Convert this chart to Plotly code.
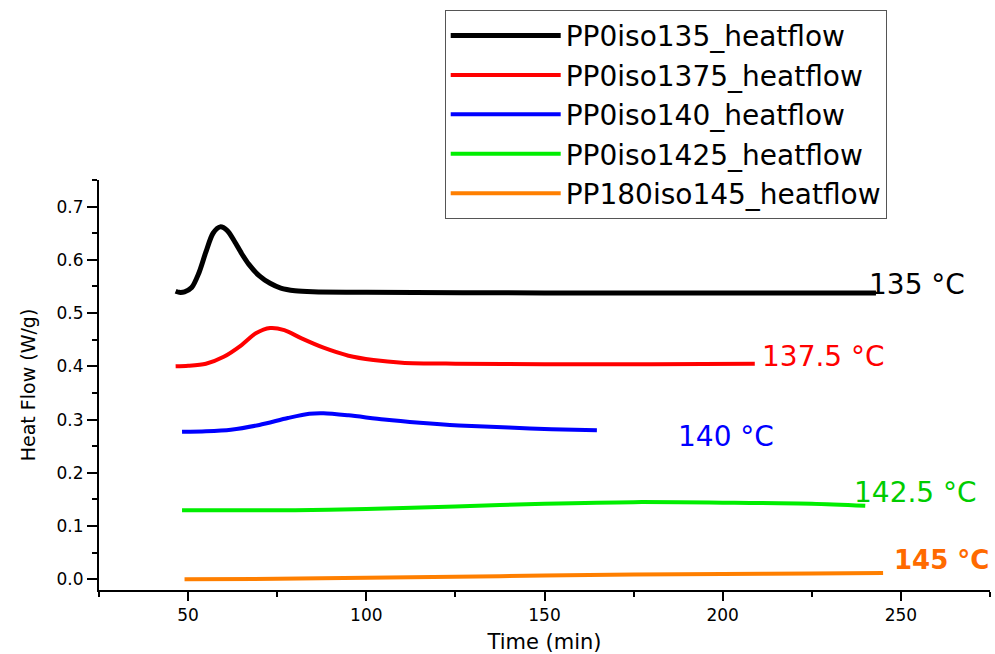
import plotly.graph_objects as go

# ---- data ----
t_135 = [46.5, 47.5, 49, 51, 53, 55, 57, 59, 61, 63, 65, 67, 70, 73, 76, 80, 85, 100, 150, 200, 243]
hf_135 = [0.541, 0.539, 0.540, 0.548, 0.575, 0.615, 0.650, 0.662, 0.655, 0.635, 0.612, 0.592,
          0.570, 0.556, 0.547, 0.542, 0.540, 0.539, 0.538, 0.538, 0.538]

t_1375 = [46.5, 50, 55, 60, 65, 69, 73, 77, 82, 88, 95, 102, 110, 125, 150, 180, 209]
hf_1375 = [0.400, 0.401, 0.405, 0.418, 0.440, 0.462, 0.472, 0.468, 0.452, 0.435, 0.420,
           0.412, 0.407, 0.405, 0.404, 0.404, 0.405]

t_140 = [48.3, 55, 62, 70, 78, 84, 88, 95, 105, 115, 126, 140, 152, 164.7]
hf_140 = [0.277, 0.278, 0.281, 0.290, 0.303, 0.311, 0.312, 0.308, 0.300, 0.294, 0.289,
          0.285, 0.282, 0.280]

t_1425 = [48.3, 80, 100, 125, 150, 175, 200, 225, 240]
hf_1425 = [0.130, 0.130, 0.132, 0.137, 0.142, 0.145, 0.144, 0.142, 0.138]

t_145 = [49, 75, 100, 125, 150, 175, 200, 225, 245]
hf_145 = [0.000, 0.001, 0.003, 0.005, 0.007, 0.009, 0.010, 0.011, 0.012]

series_names = ["PP0iso135_heatflow", "PP0iso1375_heatflow", "PP0iso140_heatflow",
                "PP0iso1425_heatflow", "PP180iso145_heatflow"]
series_x = [t_135, t_1375, t_140, t_1425, t_145]
series_y = [hf_135, hf_1375, hf_140, hf_1425, hf_145]
colors = ["#000000", "#ff0000", "#0000ff", "#00ee00", "#ff7f00"]
widths = [5, 4, 4, 4, 4]

label_texts = ["135 °C", "137.5 °C", "140 °C", "142.5 °C", "<b>145 °C</b>"]
label_x = [240.4, 210.4, 186.8, 236.4, 247.4]
label_y = [0.553, 0.418, 0.269, 0.164, 0.036]
label_colors = ["#000000", "#ff0000", "#0000ff", "#00cc00", "#ff6a00"]
label_sizes = [28, 28, 28, 28, 26]

FONT = "DejaVu Sans"

fig = go.Figure()
for name, xs, ys, c, w in zip(series_names, series_x, series_y, colors, widths):
    fig.add_trace(go.Scatter(x=xs, y=ys, mode="lines", name=name,
                             line=dict(color=c, width=w, shape="spline", smoothing=0.8)))

for txt, x, y, c, s in zip(label_texts, label_x, label_y, label_colors, label_sizes):
    fig.add_annotation(x=x, y=y, text=txt, showarrow=False, xanchor="left", yanchor="middle",
                       font=dict(family=FONT, size=s, color=c))

fig.update_layout(
    width=995, height=654,
    margin=dict(l=99, r=5, t=180, b=64),
    paper_bgcolor="white", plot_bgcolor="white",
    font=dict(family=FONT, color="black"),
    showlegend=True,
    legend=dict(x=0.388, y=1.415, xanchor="left", yanchor="top",
                bordercolor="#555555", borderwidth=1, bgcolor="white",
                font=dict(family=FONT, size=28, color="black"), itemwidth=110,
                tracegroupgap=0),
    xaxis=dict(range=[25, 275], showline=True, linecolor="black", linewidth=2,
               showgrid=False, zeroline=False, ticks="outside", ticklen=9, tickwidth=2,
               tickcolor="black", tickvals=[50, 100, 150, 200, 250],
               minor=dict(ticks="outside", ticklen=5, tickwidth=2, tickcolor="black",
                          tickvals=[25, 75, 125, 175, 225, 275]),
               tickfont=dict(family=FONT, size=17),
               title=dict(text="Time (min)", font=dict(family=FONT, size=21), standoff=10)),
    yaxis=dict(range=[-0.02, 0.75], showline=True, linecolor="black", linewidth=2,
               showgrid=False, zeroline=False, ticks="outside", ticklen=10, tickwidth=2,
               tickcolor="black", tickvals=[0, 0.1, 0.2, 0.3, 0.4, 0.5, 0.6, 0.7],
               ticktext=["0.0", "0.1", "0.2", "0.3", "0.4", "0.5", "0.6", "0.7"],
               minor=dict(ticks="outside", ticklen=5, tickwidth=2, tickcolor="black",
                          tickvals=[0.05, 0.15, 0.25, 0.35, 0.45, 0.55, 0.65, 0.75]),
               tickfont=dict(family=FONT, size=17),
               title=dict(text="Heat Flow (W/g)", font=dict(family=FONT, size=19), standoff=16)),
)

fig.write_html("out.html")
